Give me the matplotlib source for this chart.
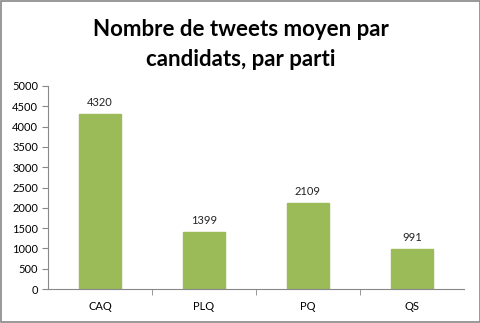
import matplotlib.pyplot as plt
from matplotlib.patches import Rectangle

partis = ['CAQ', 'PLQ', 'PQ', 'QS']
tweets = [4320, 1399, 2109, 991]

plt.rcParams['font.family'] = ['Lato', 'DejaVu Sans']

fig = plt.figure(figsize=(4.81, 3.23), dpi=100)
ax = fig.add_axes([48 / 481, 1 - 289 / 323, 416 / 481, 203 / 323])

x = range(len(partis))
bars = ax.bar(x, tweets, width=0.4, color='#9BBB59', edgecolor='#9BBB59')
for xi, v in zip(x, tweets):
    ax.text(xi, v + 150, str(v), ha='center', va='bottom', fontsize=8, color='#222222')

ax.set_xlim(-0.5, len(partis) - 0.5)
ax.set_ylim(0, 5000)
ax.set_yticks(range(0, 5001, 500))
ax.set_xticks([i + 0.5 for i in range(len(partis) - 1)], minor=True)
ax.set_xticks(list(x))
ax.set_xticklabels(partis)
ax.tick_params(axis='x', which='major', length=0, pad=9, labelsize=8)
ax.tick_params(axis='x', which='minor', length=4, color='#888888', direction='out')
ax.tick_params(axis='y', length=4, color='#888888', labelsize=8, pad=3)

for side in ['top', 'right']:
    ax.spines[side].set_visible(False)
for side in ['left', 'bottom']:
    ax.spines[side].set_color('#888888')
    ax.spines[side].set_linewidth(0.8)

fig.text(0.5, 1 - 29 / 323, 'Nombre de tweets moyen par', ha='center', va='center',
         fontsize=16, fontweight='bold')
fig.text(0.5, 1 - 59 / 323, 'candidats, par parti', ha='center', va='center',
         fontsize=16, fontweight='bold')

fig.patches.append(Rectangle((0.002, 0.003), 0.995, 0.993, transform=fig.transFigure,
                             fill=False, edgecolor='#888888', linewidth=1.2))

fig.savefig('out.png', dpi=100)
